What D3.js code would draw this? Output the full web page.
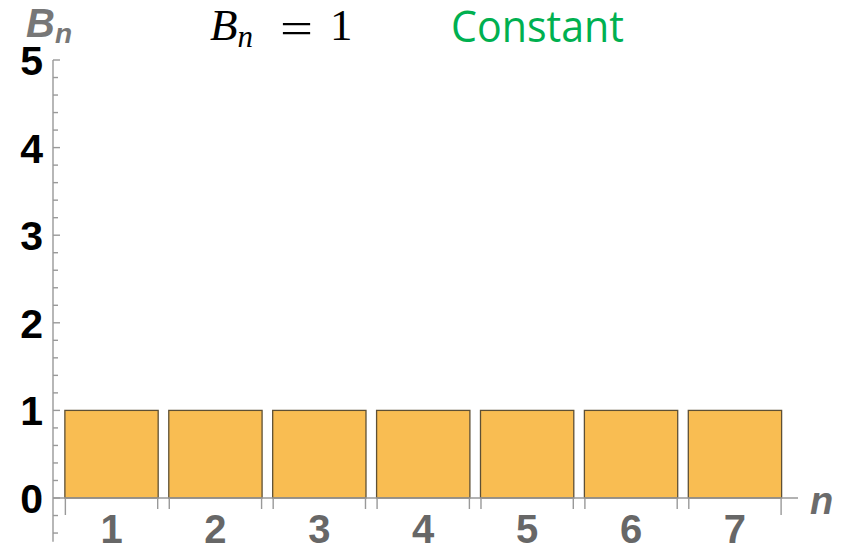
<!DOCTYPE html>
<meta charset="utf-8">
<style>
body { margin: 0; background: #fff; }
.axis line { stroke: #999; stroke-width: 1.4px; }
.bar { fill: #f9bd52; stroke: #5e5035; stroke-width: 1.3px; }
.ylab { font: bold 41px "Liberation Sans", Arial, sans-serif; fill: #000; }
.xlab { font: bold 40px "Liberation Sans", Arial, sans-serif; fill: #676767; }
</style>
<body>
<script src="https://cdn.jsdelivr.net/npm/d3@7/dist/d3.min.js"></script>
<script>

var categories = [1, 2, 3, 4, 5, 6, 7];
var values = [1, 1, 1, 1, 1, 1, 1];
var yTickLabels = [0, 1, 2, 3, 4, 5];

var width = 842, height = 549;

var svg = d3.select("body").append("svg")
    .attr("width", width)
    .attr("height", height);

var x = d3.scaleBand()
    .domain(categories)
    .range([53, 798])
    .paddingInner(0.102)
    .paddingOuter(0.136)
    .align(0.42);

var y = d3.scaleLinear()
    .domain([-0.5, 5])
    .range([541.8, 60]);

// bars
svg.selectAll(".bar")
    .data(categories)
  .enter().append("rect")
    .attr("class", "bar")
    .attr("x", function(d) { return x(d); })
    .attr("y", function(d, i) { return y(values[i]); })
    .attr("width", x.bandwidth())
    .attr("height", function(d, i) { return y(0) - y(values[i]); });

var ax = svg.append("g").attr("class", "axis");

// y axis line + ticks
var x0 = x.range()[0];
ax.append("line")
    .attr("x1", x0).attr("x2", x0)
    .attr("y1", y(-0.5)).attr("y2", y(5));

var minor = d3.range(-2, 26).map(function(k) { return k / 5; });
ax.selectAll(".ytick")
    .data(minor)
  .enter().append("line")
    .attr("x1", x0)
    .attr("x2", function(d) { return x0 + (Math.abs(d - Math.round(d)) < 1e-6 ? 7 : 5); })
    .attr("y1", function(d) { return y(d); })
    .attr("y2", function(d) { return y(d); });

svg.selectAll(".ylab")
    .data(yTickLabels)
  .enter().append("text")
    .attr("class", "ylab")
    .attr("x", 43)
    .attr("y", function(d) { return y(d) + 15; })
    .attr("text-anchor", "end")
    .text(function(d) { return d; });

// x axis line + ticks at bar edges
ax.append("line")
    .attr("x1", x0).attr("x2", x.range()[1])
    .attr("y1", y(0)).attr("y2", y(0));

var edges = [];
categories.forEach(function(c, i) {
  edges.push({pos: x(c) + 0.5, outer: i === 0});
  edges.push({pos: x(c) + x.bandwidth() - 0.5, outer: i === categories.length - 1});
});
ax.selectAll(".xtick")
    .data(edges)
  .enter().append("line")
    .attr("x1", function(d) { return d.pos; })
    .attr("x2", function(d) { return d.pos; })
    .attr("y1", y(0))
    .attr("y2", function(d) { return y(0) + (d.outer ? 17 : 11); });

svg.selectAll(".xlab")
    .data(categories)
  .enter().append("text")
    .attr("class", "xlab")
    .attr("x", function(d) { return x(d) + x.bandwidth() / 2; })
    .attr("y", 543)
    .attr("text-anchor", "middle")
    .text(function(d) { return d; });

// axis names
var an = svg.append("text")
    .attr("x", 26).attr("y", 37)
    .style("font", "italic bold 40px 'Liberation Sans', Arial, sans-serif")
    .style("fill", "#777");
an.append("tspan").text("B");
an.append("tspan").attr("dy", 6).style("font-size", "28px").text("n");

svg.append("text")
    .attr("x", 810).attr("y", 514)
    .style("font", "italic bold 38px 'Liberation Sans', Arial, sans-serif")
    .style("fill", "#6b6b6b")
    .text("n");

// title  B_n = 1
var tfont = "45px 'Liberation Serif', 'Times New Roman', serif";
var t = svg.append("text")
    .attr("x", 210).attr("y", 40)
    .style("font", tfont)
    .style("fill", "#000");
t.append("tspan").style("font-style", "italic").text("B");
t.append("tspan").attr("dy", 7).style("font-style", "italic").style("font-size", "31px").text("n");

svg.append("text")
    .attr("x", 280).attr("y", 43)
    .attr("textLength", 33)
    .attr("lengthAdjust", "spacingAndGlyphs")
    .style("font", tfont)
    .text("=");

svg.append("text")
    .attr("x", 330).attr("y", 40)
    .style("font", tfont)
    .text("1");

svg.append("text")
    .attr("x", 451).attr("y", 42)
    .attr("textLength", 173)
    .attr("lengthAdjust", "spacingAndGlyphs")
    .style("font", "43px 'Open Sans', sans-serif")
    .style("fill", "#00b050")
    .text("Constant");

</script>
